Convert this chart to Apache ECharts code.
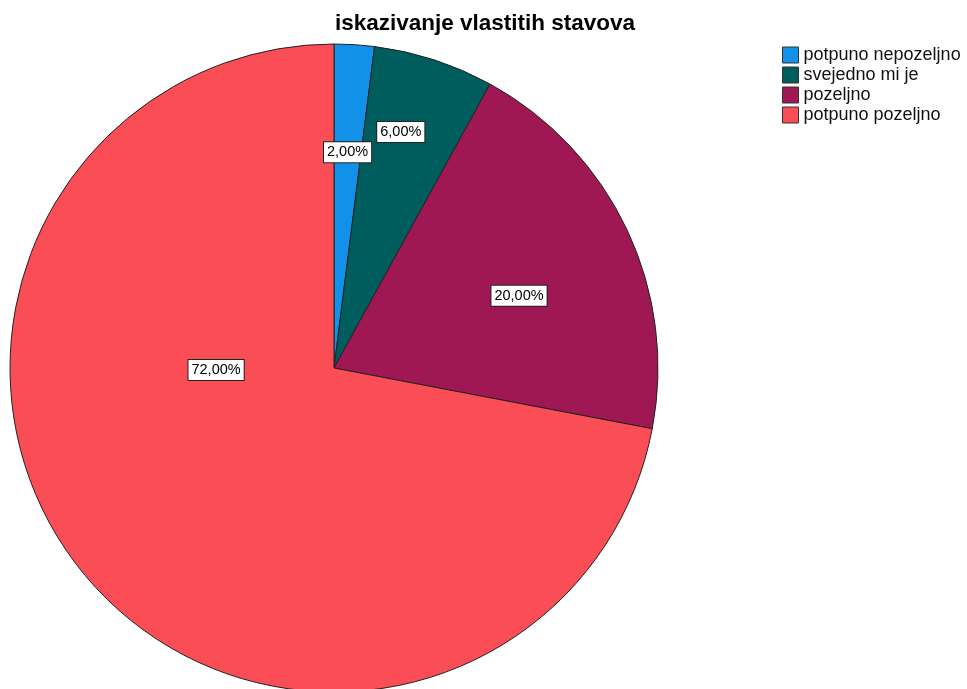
<!DOCTYPE html>
<html><head><meta charset="utf-8">
<script src="https://cdn.jsdelivr.net/npm/echarts@6/dist/echarts.min.js"></script>
<style>html,body{margin:0;padding:0;background:#fff}#c{width:967px;height:689px}</style>
</head><body><div id="c"></div>
<script>
const categories = ['potpuno nepozeljno', 'svejedno mi je', 'pozeljno', 'potpuno pozeljno'];
const percents = [2.00, 6.00, 20.00, 72.00];
const colors = ['#1192e8', '#005d5d', '#9f1853', '#fa4d56'];
const titleText = 'iskazivanje vlastitih stavova';

const CX = 334, CY = 368, R = 324;
const labelRadial = [0.667, 0.757, 0.613, 0.364];
const labelAngleShift = [0, -2.2, 3.9, 38.6];
const total = percents.reduce((a, b) => a + b, 0);
const mids = [];
let acc = 0;
percents.forEach(v => { mids.push((acc + v / 2) / total * 360); acc += v; });

const chart = echarts.init(document.getElementById('c'));
chart.setOption({
  animation: false,
  title: { text: titleText, left: 480, top: 7, textAlign: 'center',
    textStyle: { fontFamily: 'Liberation Sans', fontSize: 22.5, fontWeight: 'bold', color: '#000' } },
  legend: { orient: 'vertical', left: 777, top: 41, itemWidth: 16, itemHeight: 16, itemGap: 2,
    icon: 'rect', textStyle: { fontFamily: 'Liberation Sans', fontSize: 18, color: '#111' },
    data: categories.map((c, i) => ({ name: c, itemStyle: { borderColor: '#333', borderWidth: 1 } })) },
  series: [{
    type: 'pie', center: [CX, CY], radius: R, startAngle: 90, clockwise: true,
    data: categories.map((c, i) => ({ name: c, value: percents[i], itemStyle: { color: colors[i] } })),
    itemStyle: { borderColor: '#222', borderWidth: 1 },
    label: { show: true, position: 'inside', formatter: p => p.value.toFixed(2).replace('.', ',') + '%',
      fontFamily: 'Liberation Sans', fontSize: 14.5, color: '#000', backgroundColor: '#fff',
      borderColor: '#222', borderWidth: 1, padding: [3, 3, 2, 3] },
    labelLine: { show: false },
    labelLayout: function (p) {
      const i = p.dataIndex;
      const a = (mids[i] + labelAngleShift[i]) * Math.PI / 180;
      const d = R * labelRadial[i];
      return { x: CX + d * Math.sin(a), y: CY - d * Math.cos(a), align: 'center', verticalAlign: 'middle' };
    },
    emphasis: { disabled: true }
  }]
});
</script></body></html>
